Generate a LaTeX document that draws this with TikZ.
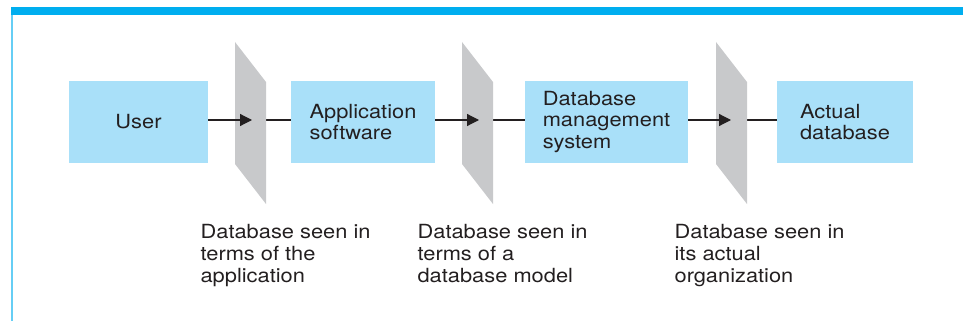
\documentclass[tikz,border=0pt]{standalone}
\usepackage{fontspec}
\newfontfamily\figfont[FakeStretch=1.12]{TeX Gyre Heros}
\usetikzlibrary{positioning, arrows.meta}
\definecolor{topbar}{HTML}{00AEEF}
\definecolor{layerbox}{HTML}{A9E0F9}
\definecolor{viewplane}{HTML}{C8C9CB}
\definecolor{inktext}{HTML}{231F20}

\begin{document}
\begin{tikzpicture}[
    x=1pt, y=-1pt,
    >={Triangle[length=12pt,width=12pt]},
    line width=1.2pt,
    font=\figfont\fontsize{19.5}{21.7}\selectfont,
    text=inktext,
    layer/.style={
        fill=layerbox,
        minimum height=82pt,
        inner sep=0pt,
        outer sep=0pt,
        align=left
    },
    viewnote/.style={anchor=north west, inner sep=0pt, align=left},
    link/.style={draw=inktext}
]
\useasboundingbox (0,0) rectangle (963,321);

% frame
\fill[topbar] (11,7) rectangle (963,15);
\draw[topbar!60] (12,15) -- (12,321);

% layers
\node[layer, minimum width=139pt] (user) at (138.5,122) {User};
\node[layer, minimum width=144pt, right=83pt of user] (app) {Application\\software};
\node[layer, minimum width=163pt, right=90pt of app] (dbms) {Database\\management\\system};
\node[layer, minimum width=136pt, right=89pt of dbms] (actual) {Actual\\database};

\draw[link] ([yshift=2pt]user.east) -- ([yshift=2pt]app.west);
\draw[link] ([yshift=2pt]app.east) -- ([yshift=2pt]dbms.west);
\draw[link] ([yshift=2pt]dbms.east) -- ([yshift=2pt]actual.west);

% view planes
\fill[viewplane] (235,42) -- (266,82) -- (266,204) -- (235,164) -- cycle;
\fill[viewplane] (462,42) -- (493,82) -- (493,204) -- (462,164) -- cycle;
\fill[viewplane] (716,42) -- (747,82) -- (747,204) -- (716,164) -- cycle;

\coordinate (tip1) at (252,120);
\coordinate (tip2) at (479,120);
\coordinate (tip3) at (731,120);
\draw[link, ->] ([yshift=2pt]user.east) -- (tip1);
\draw[link, ->] ([yshift=2pt]app.east) -- (tip2);
\draw[link, ->] ([yshift=2pt]dbms.east) -- (tip3);

% notes
\node[viewnote] (note1) at (200,224) {Database seen in\\terms of the\\application};
\node[viewnote] (note2) at (417,224) {Database seen in\\terms of a\\database model};
\node[viewnote] (note3) at (674,224) {Database seen in\\its actual\\organization};

\end{tikzpicture}
\end{document}
